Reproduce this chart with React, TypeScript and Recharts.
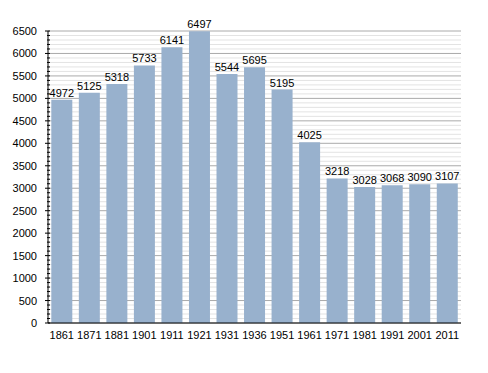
import { Bar, BarChart, XAxis, YAxis, CartesianGrid, LabelList } from "recharts"

const years = ["1861", "1871", "1881", "1901", "1911", "1921", "1931", "1936", "1951", "1961", "1971", "1981", "1991", "2001", "2011"]
const population = [4972, 5125, 5318, 5733, 6141, 6497, 5544, 5695, 5195, 4025, 3218, 3028, 3068, 3090, 3107]
const yTicks = Array.from({ length: 66 }, (_, i) => i * 100)

const data = years.map((y, i) => ({ year: y, pop: population[i] }))

const FONT = "'Liberation Sans', Arial, sans-serif"

const YTick = (props: any) => {
  const { x, y, payload } = props
  const major = payload.value % 500 === 0
  return (
    <g>
      <line x1={x + 10 - (major ? 5 : 3)} x2={x + 10} y1={y} y2={y} stroke="#000" strokeWidth={1} />
      {major && (
        <text x={x - 3} y={y} dy={4} textAnchor="end" fontSize={11} fill="#000" fontFamily={FONT}>
          {payload.value}
        </text>
      )}
    </g>
  )
}

const GridLine = (props: any) => {
  const { x1, x2, y1, y2, index } = props
  const major = index % 5 === 0
  return <line x1={x1} x2={x2} y1={y1} y2={y2} stroke={major ? "#aaaaaa" : "#e3e3e3"} strokeWidth={1} />
}

export default function App() {
  return (
    <div style={{ position: "absolute", left: 0, top: 0 }}>
      <BarChart
        width={488}
        height={373}
        data={data}
        margin={{ top: 31, right: 27, bottom: 20, left: 8 }}
        barCategoryGap="12%"
      >
        <CartesianGrid vertical={false} horizontal={GridLine} />
        <YAxis
          width={40}
          domain={[0, 6500]}
          ticks={yTicks}
          interval={0}
          tickLine={false}
          axisLine={{ stroke: "#000" }}
          tick={<YTick />}
        />
        <XAxis
          dataKey="year"
          tickLine={false}
          axisLine={{ stroke: "#000" }}
          tick={{ fontSize: 11, fill: "#000", fontFamily: FONT }}
          height={30}
          interval={0}
        />
        <Bar dataKey="pop" fill="#98b1cd" isAnimationActive={false}>
          <LabelList dataKey="pop" position="top" offset={3} fontSize={11} fill="#000" fontFamily={FONT} />
        </Bar>
      </BarChart>
    </div>
  )
}
